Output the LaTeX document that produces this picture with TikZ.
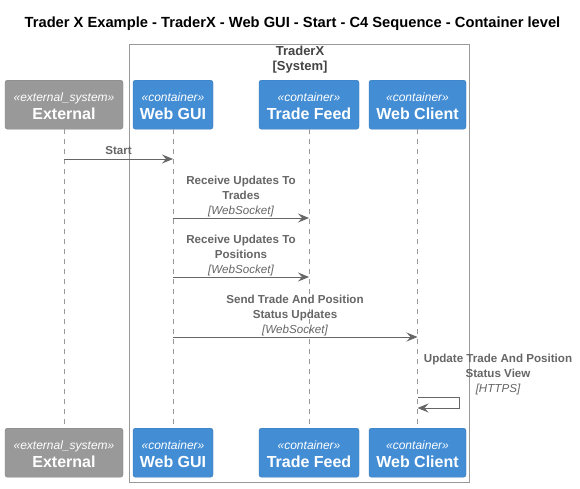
\documentclass[tikz,border=0pt]{standalone}
\usepackage{fontspec}
\setmainfont{Liberation Sans}
\usetikzlibrary{arrows.meta}
\definecolor{extgray}{HTML}{999999}
\definecolor{contblue}{HTML}{438DD5}
\definecolor{linegray}{HTML}{666666}
\definecolor{boundgray}{HTML}{999999}
\definecolor{titlecol}{HTML}{000000}
\definecolor{bndtext}{HTML}{444444}
\tikzset{
  x=1pt, y=-1pt,
  partbox/.style={rectangle, rounded corners=2.5pt, minimum height=49pt, inner sep=0pt, draw=#1!85!black, line width=0.4pt, fill=#1},
  stereotxt/.style={anchor=base, inner sep=0pt, text=white, font=\fontsize{12}{14}\selectfont\itshape},
  nametxt/.style={anchor=base, inner sep=0pt, text=white, font=\fontsize{16}{18}\selectfont\bfseries},
  lifeline/.style={draw=boundgray, dash pattern=on 5pt off 5pt, line width=0.6pt},
  msg/.style={draw=linegray, line width=1pt, -{Stealth[length=11pt, width=9pt, inset=4pt]}},
  msglabel/.style={anchor=south, inner sep=0pt, align=center, text=linegray, font=\fontsize{11.6}{15}\selectfont\bfseries},
}
\newcommand\techtxt[1]{{\fontsize{11.6}{15}\selectfont\mdseries\itshape #1}}
% \participant{id}{x}{ytop}{width}{colour}{stereotype}{name}
\newcommand\participant[7]{%
  \node[partbox=#5, minimum width=#4pt, anchor=north] (#1) at (#2,#3) {};
  \node[stereotxt] (#1-st) at ([yshift=-21pt]#1.north) {«#6»};
  \node[nametxt] (#1-nm) at ([yshift=-39pt]#1.north) {#7};
}
\begin{document}
\begin{tikzpicture}
\useasboundingbox (0,0) rectangle (580,488);
\fill[white] (0,0) rectangle (580,488);
% title
\node[font=\fontsize{14.7}{16}\selectfont\bfseries, text=titlecol] (title) at (292.5,24) {Trader X Example - TraderX - Web GUI - Start - C4 Sequence - Container level};
% boundary
\node[draw=boundgray, line width=0.8pt, rectangle, minimum width=340pt, minimum height=438pt, inner sep=0pt] (bnd) at (299,263) {};
\node[font=\fontsize{13}{15.5}\selectfont\bfseries, text=bndtext, align=center, anchor=north, inner sep=0pt] (bndlabel) at (300,45.5) {TraderX\\{}{[System]}};
% participants top
\participant{extT}{64}{80}{118}{extgray}{external\_system}{External}
\participant{guiT}{173}{80}{80}{contblue}{container}{Web GUI}
\participant{feedT}{309}{80}{100}{contblue}{container}{Trade Feed}
\participant{cliT}{417.5}{80}{97}{contblue}{container}{Web Client}
% participants bottom
\participant{extB}{64}{428}{118}{extgray}{external\_system}{External}
\participant{guiB}{173}{428}{80}{contblue}{container}{Web GUI}
\participant{feedB}{309}{428}{100}{contblue}{container}{Trade Feed}
\participant{cliB}{417.5}{428}{97}{contblue}{container}{Web Client}
% lifelines
\draw[lifeline] (extT.south) -- (extB.north);
\draw[lifeline] (guiT.south) -- (guiB.north);
\draw[lifeline] (feedT.south) -- (feedB.north);
\draw[lifeline] (cliT.south) -- (cliB.north);
% messages
\coordinate (m1s) at (extT.south |- 0,159);
\coordinate (m1e) at (guiT.south |- 0,159);
\draw[msg] (m1s) -- (m1e);
\node[msglabel] (l1) at (118.5,155) {Start};

\coordinate (m2s) at (guiT.south |- 0,218);
\coordinate (m2e) at (feedT.south |- 0,218);
\draw[msg] (m2s) -- (m2e);
\node[msglabel] (l2) at (241,217.5) {Receive Updates To\\Trades\\\techtxt{[WebSocket]}};

\coordinate (m3s) at (guiT.south |- 0,277);
\coordinate (m3e) at (feedT.south |- 0,277);
\draw[msg] (m3s) -- (m3e);
\node[msglabel] (l3) at (241,276.5) {Receive Updates To\\Positions\\\techtxt{[WebSocket]}};

\coordinate (m4s) at (guiT.south |- 0,337);
\coordinate (m4e) at (cliT.south |- 0,337);
\draw[msg] (m4s) -- (m4e);
\node[msglabel] (l4) at (295,336) {Send Trade And Position\\Status Updates\\\techtxt{[WebSocket]}};

\coordinate (m5s) at (cliT.south |- 0,397);
\coordinate (m5e) at (cliT.south |- 0,408);
\draw[msg] (m5s) -- ++(42,0) |- (m5e);
\node[msglabel] (l5) at (498,395.5) {Update Trade And Position\\Status View\\\techtxt{[HTTPS]}};
\end{tikzpicture}
\end{document}
